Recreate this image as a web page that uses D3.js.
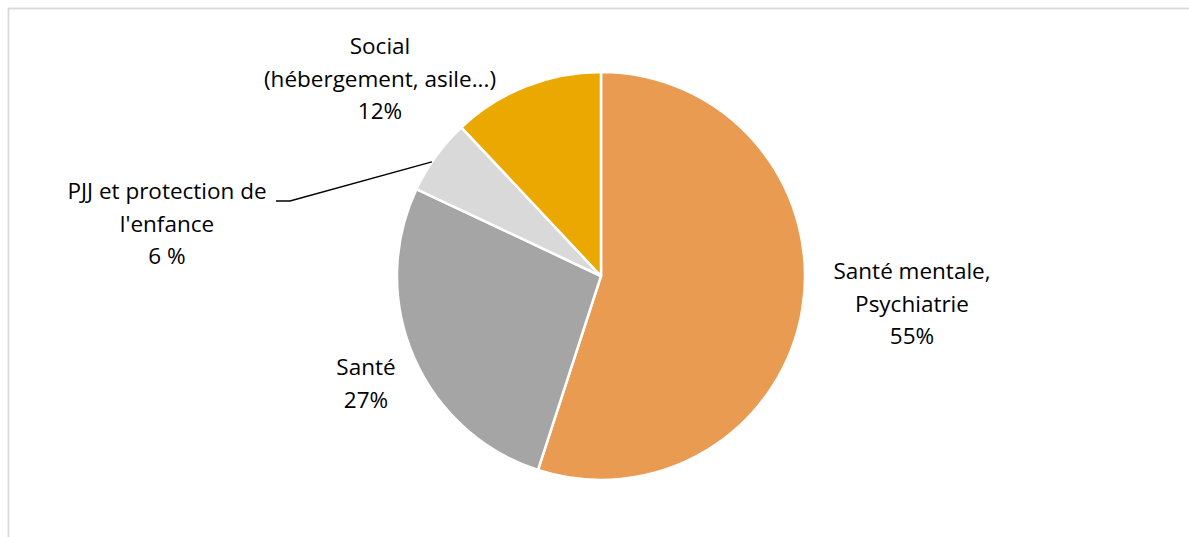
<!DOCTYPE html>
<html lang="fr">
<head>
<meta charset="utf-8">
<script src="https://cdn.jsdelivr.net/npm/d3@7"></script>
<style>
  html, body { margin: 0; padding: 0; background: #fff; }
  svg text { font-family: "Open Sans", "Noto Sans", sans-serif; font-size: 22.5px; fill: #000; font-variant-ligatures: none; }
</style>
</head>
<body>
<svg id="chart" width="1189" height="537"></svg>
<script>
// Répartition des orientations par secteur (en %)
const categories = ["Santé mentale, Psychiatrie", "Santé", "PJJ et protection de l'enfance", "Social (hébergement, asile...)"];
const values = [55, 27, 6, 12];
const labelLines = [
  ["Santé mentale,", "Psychiatrie", "55%"],
  ["Santé", "27%"],
  ["PJJ et protection de", "l'enfance", "6 %"],
  ["Social", "(hébergement, asile...)", "12%"]
];
const colors = ["#E99B52", "#A5A5A5", "#D9D9D9", "#EBA800"];

const svg = d3.select("#chart");
const W = 1189, H = 537;

// Cadre du graphique
svg.append("rect")
  .attr("x", 8.5).attr("y", 8.5)
  .attr("width", W + 20).attr("height", H + 20)
  .attr("fill", "none").attr("stroke", "#D9D9D9").attr("stroke-width", 1.8);

const cx = 601, cy = 276, r = 204;

const pie = d3.pie().sort(null).value(d => d)(values);
const arc = d3.arc().innerRadius(0).outerRadius(r);

const g = svg.append("g").attr("transform", `translate(${cx},${cy})`);
g.selectAll("path")
  .data(pie)
  .join("path")
  .attr("d", arc)
  .attr("fill", (d, i) => colors[i])
  .attr("stroke", "#fff")
  .attr("stroke-width", 2.5)
  .attr("stroke-linejoin", "round");

// Étiquettes : position relative au centre du camembert
const labelPos = [
  { x: 311, y: -4 },
  { x: -235, y: 92 },
  { x: -434, y: -84 },
  { x: -221, y: -229 }
];
const lineGap = 32.5;

labelLines.forEach((lines, i) => {
  const t = svg.append("text")
    .attr("text-anchor", "middle")
    .attr("transform", `translate(${cx + labelPos[i].x},${cy + labelPos[i].y})`);
  lines.forEach((s, k) => {
    t.append("tspan").attr("x", 0).attr("y", k * lineGap + 7).text(s);
  });
});

// Ligne de rappel pour la petite part PJJ
const pjj = pie[2];
const midA = (pjj.startAngle + pjj.endAngle) / 2 - 0.035;
const edge = [Math.sin(midA) * r, -Math.cos(midA) * r];
const elbow = [-311, -75];
const tail = [-325, -75];
svg.append("path")
  .attr("transform", `translate(${cx},${cy})`)
  .attr("d", d3.line()([tail, elbow, edge]))
  .attr("fill", "none")
  .attr("stroke", "#000")
  .attr("stroke-width", 1.4);
</script>
</body>
</html>
